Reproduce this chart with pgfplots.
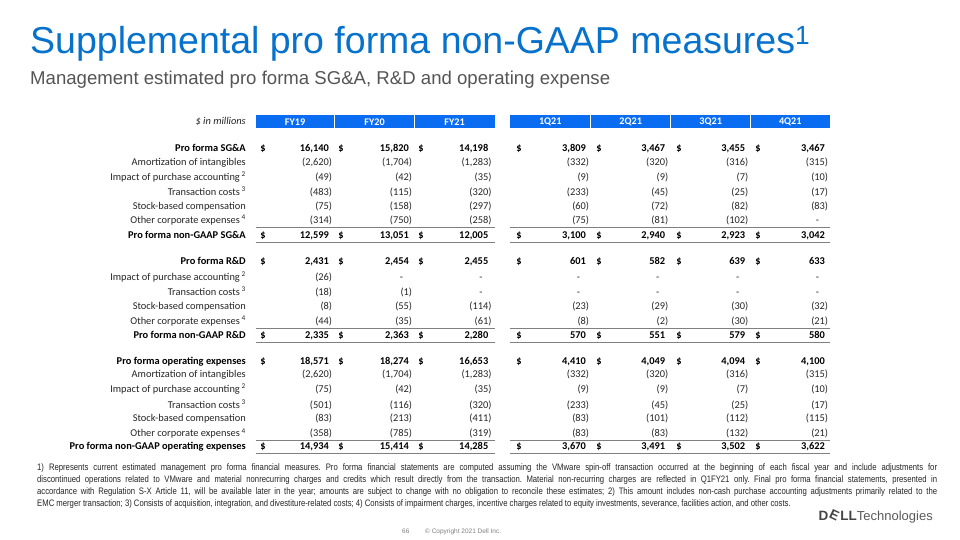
\documentclass[border=0pt]{standalone}
\usepackage{pgfplots}
\pgfplotsset{compat=1.18}
\usepackage{pgfplotstable}
\usepackage{graphicx}
\usepackage{fontspec}
\setmainfont{Carlito}
\newfontfamily\arial{Liberation Sans}
\newfontfamily\narrow[FakeStretch=0.82]{Liberation Sans}
\definecolor{dellblue}{HTML}{0672CB}
\definecolor{hdr}{HTML}{0A6CF0}
\definecolor{subgray}{HTML}{555555}
\definecolor{txt}{HTML}{262626}
\definecolor{rule}{HTML}{808080}
\definecolor{logogray}{HTML}{444444}
\definecolor{logogray2}{HTML}{5A5A5A}

% B prefix = bold row
\pgfplotstableread[col sep=semicolon]{
y;c1;c2;c3;c4;c5;c6;c7
149.3;B16,140;B15,820;B14,198;B3,809;B3,467;B3,455;B3,467
162.7;(2,620);(1,704);(1,283);(332);(320);(316);(315)
177.7;(49);(42);(35);(9);(9);(7);(10)
192.7;(483);(115);(320);(233);(45);(25);(17)
206.7;(75);(158);(297);(60);(72);(82);(83)
221;(314);(750);(258);(75);(81);(102);-
236;B12,599;B13,051;B12,005;B3,100;B2,940;B2,923;B3,042
261.7;B2,431;B2,454;B2,455;B601;B582;B639;B633
277.7;(26);-;-;-;-;-;-
292.7;(18);(1);-;-;-;-;-
306.7;(8);(55);(114);(23);(29);(30);(32)
321.7;(44);(35);(61);(8);(2);(30);(21)
335.7;B2,335;B2,363;B2,280;B570;B551;B579;B580
361.7;B18,571;B18,274;B16,653;B4,410;B4,049;B4,094;B4,100
375;(2,620);(1,704);(1,283);(332);(320);(316);(315)
390;(75);(42);(35);(9);(9);(7);(10)
405.7;(501);(116);(320);(233);(45);(25);(17)
419;(83);(213);(411);(83);(101);(112);(115)
434.3;(358);(785);(319);(83);(83);(132);(21)
447.3;B14,934;B15,414;B14,285;B3,670;B3,491;B3,502;B3,622
}\datatab

\pgfplotstableread{
y
149.3
236
261.7
335.7
361.7
447.3
}\dollartab

\def\fmtcheckb#1#2\relax{\ifx(#1#1#2\else\ifx-#1-\hspace*{9pt}\else#1#2\phantom{)}\fi\fi}
\def\fmtcheck#1#2\relax{\if B#1\def\next{\bfseries\color{black}\fmtcheckb#2\relax}\else\def\next{\fmtcheckb#1#2\relax}\fi\next}
\newcommand\fmtval{\edef\tmpv{\pgfplotspointmeta}\expandafter\fmtcheck\tmpv\relax}
\newcommand\tabfont{\fontsize{10.4}{12}\selectfont}
\newcommand\hdrfont{\bfseries\fontsize{10.2}{12}\selectfont}

\newcommand\valcol[2]{%
\addplot[draw=none, mark=none,
  point meta=explicit symbolic,
  nodes near coords={\fmtval},
  every node near coord/.append style={anchor=mid east, inner sep=0pt, text=txt, font=\tabfont}]
  table[x expr=#2, y=y, meta=#1] {\datatab};}

\begin{document}
\begin{tikzpicture}
\begin{axis}[
  scale only axis, width=960pt, height=540pt,
  xmin=0, xmax=960, ymin=0, ymax=540, y dir=reverse,
  clip=false,
  axis line style={draw=none}, tick style={draw=none},
  axis background/.style={fill=white},
  xtick=\empty,
  ytick={121.7,149.3,162.7,177.7,192.7,206.7,221,236,261.7,277.7,292.7,306.7,321.7,335.7,361.7,375,390,405.7,419,434.3,447.3},
  yticklabels={
    {\itshape\$ in millions},
    {\bfseries\color{black}Pro forma SG\&A},
    {Amortization of intangibles},
    {Impact of purchase accounting\,\textsuperscript{2}},
    {Transaction costs\,\textsuperscript{3}},
    {Stock-based compensation},
    {Other corporate expenses\,\textsuperscript{4}},
    {\bfseries\color{black}Pro forma non-GAAP SG\&A},
    {\bfseries\color{black}Pro forma R\&D},
    {Impact of purchase accounting\,\textsuperscript{2}},
    {Transaction costs\,\textsuperscript{3}},
    {Stock-based compensation},
    {Other corporate expenses\,\textsuperscript{4}},
    {\bfseries\color{black}Pro forma non-GAAP R\&D},
    {\bfseries\color{black}Pro forma operating expenses},
    {Amortization of intangibles},
    {Impact of purchase accounting\,\textsuperscript{2}},
    {Transaction costs\,\textsuperscript{3}},
    {Stock-based compensation},
    {Other corporate expenses\,\textsuperscript{4}},
    {\bfseries\color{black}Pro forma non-GAAP operating expenses}},
  yticklabel style={anchor=mid east, xshift=246pt, inner sep=0pt, text=txt, font=\tabfont},
]
% header bars
\fill[hdr] (axis cs:255.5,114.7) rectangle (axis cs:334.4,128.3);
\fill[hdr] (axis cs:335.2,114.7) rectangle (axis cs:413.9,128.3);
\fill[hdr] (axis cs:414.7,114.7) rectangle (axis cs:494.8,128.3);
\fill[hdr] (axis cs:510,114.7) rectangle (axis cs:590.2,128.3);
\fill[hdr] (axis cs:591,114.7) rectangle (axis cs:670.2,128.3);
\fill[hdr] (axis cs:671,114.7) rectangle (axis cs:750.2,128.3);
\fill[hdr] (axis cs:751,114.7) rectangle (axis cs:830,128.3);
\node[text=white, font=\hdrfont, inner sep=0pt] at (axis cs:295,121.7) {FY19};
\node[text=white, font=\hdrfont, inner sep=0pt] at (axis cs:374.5,121.7) {FY20};
\node[text=white, font=\hdrfont, inner sep=0pt] at (axis cs:454.5,121.7) {FY21};
\node[text=white, font=\hdrfont, inner sep=0pt] at (axis cs:550.3,121.7) {1Q21};
\node[text=white, font=\hdrfont, inner sep=0pt] at (axis cs:630.7,121.7) {2Q21};
\node[text=white, font=\hdrfont, inner sep=0pt] at (axis cs:710.7,121.7) {3Q21};
\node[text=white, font=\hdrfont, inner sep=0pt] at (axis cs:790.3,121.7) {4Q21};
% rules
\draw[rule, line width=1.1pt] (axis cs:255.5,227.3) -- (axis cs:494.8,227.3) (axis cs:510,227.3) -- (axis cs:830,227.3);
\draw[rule, line width=1.1pt] (axis cs:255.5,242.7) -- (axis cs:494.8,242.7) (axis cs:510,242.7) -- (axis cs:830,242.7);
\draw[rule, line width=1.1pt] (axis cs:255.5,328.3) -- (axis cs:494.8,328.3) (axis cs:510,328.3) -- (axis cs:830,328.3);
\draw[rule, line width=1.1pt] (axis cs:255.5,342.3) -- (axis cs:494.8,342.3) (axis cs:510,342.3) -- (axis cs:830,342.3);
\draw[rule, line width=1.1pt] (axis cs:255.5,440.7) -- (axis cs:494.8,440.7) (axis cs:510,440.7) -- (axis cs:830,440.7);
\draw[rule, line width=1.1pt] (axis cs:255.5,453.3) -- (axis cs:494.8,453.3) (axis cs:510,453.3) -- (axis cs:830,453.3);
% values
\valcol{c1}{332.3}
\valcol{c2}{412.3}
\valcol{c3}{491.7}
\valcol{c4}{589.3}
\valcol{c5}{668.5}
\valcol{c6}{748.5}
\valcol{c7}{828.3}
% dollar signs
\pgfplotsinvokeforeach{263,341,421,519,599,679,758}{
  \addplot[draw=none, mark=none, nodes near coords={\bfseries\$},
    every node near coord/.append style={anchor=mid, inner sep=0pt, text=black, font=\tabfont}]
    table[x expr=#1, y=y] {\dollartab};
}
% title
\node[anchor=base west, inner sep=0pt, text=dellblue, font=\arial\fontsize{37.5}{42}\selectfont] at (axis cs:30,53.3) {Supplemental pro forma non-GAAP measures\textsuperscript{1}};
\node[anchor=base west, inner sep=0pt, text=subgray, font=\arial\fontsize{18.6}{22}\selectfont] at (axis cs:30,84.3) {Management estimated pro forma SG\&A, R\&D and operating expense};
% footnote
\node[anchor=north west, inner sep=0pt, text width=900pt, align=justify, text=txt,
  font=\narrow\fontsize{9.4}{12}\selectfont] at (axis cs:37,463.5) {\frenchspacing\tolerance=9999\hyphenpenalty=10000
1) Represents current estimated management pro forma financial measures. Pro forma financial statements are computed assuming the VMware spin-off transaction occurred at the beginning of each fiscal year and include adjustments for\linebreak
discontinued operations related to VMware and material nonrecurring charges and credits which result directly from the transaction. Material non-recurring charges are reflected in Q1FY21 only. Final pro forma financial statements, presented in\linebreak
accordance with Regulation S-X Article 11, will be available later in the year; amounts are subject to change with no obligation to reconcile these estimates; 2) This amount includes non-cash purchase accounting adjustments primarily related to the\linebreak
EMC merger transaction; 3) Consists of acquisition, integration, and divestiture-related costs; 4) Consists of impairment charges, incentive charges related to equity investments, severance, facilities action, and other costs.};
% logo
\node[anchor=base east, inner sep=0pt] at (axis cs:933,520) {{\arial\bfseries\fontsize{13.5}{14}\selectfont\color{logogray}D\rotatebox[origin=c]{-25}{E}LL}{\arial\fontsize{13}{14}\selectfont\color{logogray2}Technologies}};
% page footer
\node[anchor=base west, inner sep=0pt, text=gray, font=\arial\fontsize{6.5}{8}\selectfont] at (axis cs:402,533.5) {66};
\node[anchor=base west, inner sep=0pt, text=gray, font=\arial\fontsize{6.5}{8}\selectfont] at (axis cs:425,533.5) {\textcopyright\ Copyright 2021 Dell Inc.};
\end{axis}
\end{tikzpicture}
\end{document}
